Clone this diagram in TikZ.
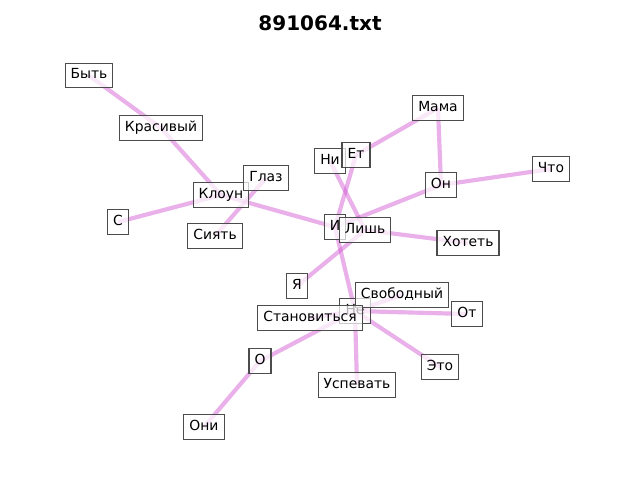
\documentclass[tikz,border=0pt]{standalone}
\usepackage{fontspec}
\setmainfont{DejaVu Sans}
\usepackage{tikz}
\usetikzlibrary{shapes}
\definecolor{edgeviolet}{RGB}{208,80,208}
\tikzstyle{word} = [rectangle, draw=black!70, line width=0.8pt,
fill=white, fill opacity=0.7, text opacity=1, inner sep=4.17pt,
text height=0.76em, text depth=0.24em, font=\fontsize{10.42}{12}\selectfont]
\tikzstyle{line} = [draw, edgeviolet, draw opacity=0.45, line width=3.125pt]
\tikzset{
  titletext/.style = {font=\fontsize{15}{18}\selectfont\bfseries, inner sep=0pt}
}
\begin{document}
\begin{tikzpicture}[x=0.75pt, y=-0.75pt]
	\useasboundingbox (0,0) rectangle (640,480);
	% Place nodes
	\coordinate (bytC) at (89,75.5);
	\coordinate (krasivyC) at (161,128);
	\coordinate (klounC) at (221,195);
	\coordinate (glazC) at (266,178);
	\coordinate (sC) at (118,222);
	\coordinate (siyatC) at (215,236);
	\coordinate (niC) at (330,161);
	\coordinate (etC) at (356,155);
	\coordinate (mamaC) at (438,108);
	\coordinate (onC) at (441,185);
	\coordinate (chtoC) at (551,169);
	\coordinate (iC) at (335,227);
	\coordinate (lishC) at (365,230);
	\coordinate (khotetC) at (468,243);
	\coordinate (yaC) at (297,286);
	\coordinate (svobodnyC) at (402,295);
	\coordinate (neC) at (355,311);
	\coordinate (stanovitsyaC) at (310,318);
	\coordinate (otC) at (467,314);
	\coordinate (oC) at (260,361);
	\coordinate (etoC) at (440,367);
	\coordinate (uspevatC) at (357,385);
	\coordinate (oniC) at (204,427);
	% Draw edges
	\path [line] (bytC) -- (krasivyC);
	\path [line] (krasivyC) -- (klounC);
	\path [line] (sC) -- (klounC);
	\path [line] (siyatC) -- (glazC);
	\path [line] (klounC) -- (iC);
	\path [line] (niC) -- (lishC);
	\path [line] (etC) -- (iC);
	\path [line] (etC) -- (mamaC);
	\path [line] (mamaC) -- (onC);
	\path [line] (onC) -- (chtoC);
	\path [line] (onC) -- (iC);
	\path [line] (lishC) -- (khotetC);
	\path [line] (yaC) -- (lishC);
	\path [line] (iC) -- (neC);
	\path [line] (neC) -- (svobodnyC);
	\path [line] (neC) -- (stanovitsyaC);
	\path [line] (neC) -- (otC);
	\path [line] (neC) -- (etoC);
	\path [line] (neC) -- (uspevatC);
	\path [line] (neC) -- (oC);
	\path [line] (oC) -- (oniC);
	% Labels
	\node [word] (byt) at (bytC) {Быть};
	\node [word] (krasivy) at (krasivyC) {Красивый};
	\node [word] (kloun) at (klounC) {Клоун};
	\node [word] (glaz) at (glazC) {Глаз};
	\node [word] (s) at (sC) {С};
	\node [word] (siyat) at (siyatC) {Сиять};
	\node [word] (ni) at (niC) {Ни};
	\node [word] (et) at (etC) {Ет};
	\node [word] (mama) at (mamaC) {Мама};
	\node [word] (on) at (onC) {Он};
	\node [word] (chto) at (chtoC) {Что};
	\node [word] (i) at (iC) {И};
	\node [word] (lish) at (lishC) {Лишь};
	\node [word] (khotet) at (khotetC) {Хотеть};
	\node [word] (ya) at (yaC) {Я};
	\node [word] (ne) at (neC) {Не};
	\node [word] (svobodny) at (svobodnyC) {Свободный};
	\node [word] (stanovitsya) at (stanovitsyaC) {Становиться};
	\node [word] (ot) at (otC) {От};
	\node [word] (o) at (oC) {О};
	\node [word] (eto) at (etoC) {Это};
	\node [word] (uspevat) at (uspevatC) {Успевать};
	\node [word] (oni) at (oniC) {Они};
	% Title
	\node [titletext] (title) at (320,23) {891064.txt};
\end{tikzpicture}
\end{document}
